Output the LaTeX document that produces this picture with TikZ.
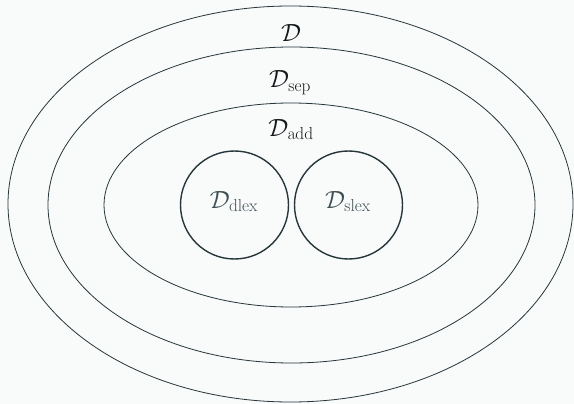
\documentclass[tikz,border=0pt]{standalone}
\usepackage{tikz}
\definecolor{bgc}{RGB}{249,250,250}
\definecolor{linec}{RGB}{38,54,58}
\definecolor{labc}{RGB}{20,24,26}
\definecolor{innerc}{RGB}{62,78,82}
\begin{document}
\begin{tikzpicture}[x=1pt,y=-1pt,
  ring/.style={draw=linec,line width=0.8pt},
  setcircle/.style={draw=linec,line width=1.4pt},
  lab/.style={text=labc,anchor=base,inner sep=0pt,font=\fontsize{23}{27}\selectfont},
  inlab/.style={lab,text=innerc}]
\fill[bgc] (0,0) rectangle (574,404);
\useasboundingbox (0,0) rectangle (574,404);
\draw[ring] (290.5,204) ellipse [x radius=282.5, y radius=198];
\draw[ring] (291.5,205) ellipse [x radius=243.5, y radius=158];
\draw[ring] (291,205) ellipse [x radius=187, y radius=102];
\draw[setcircle] (234.5,205) circle [radius=54];
\draw[setcircle] (348.5,205) circle [radius=54];
\node[lab] (d) at (291,42) {$\mathcal{D}$};
\node[lab] (dsep) at (290,88) {$\mathcal{D}_{\mathrm{sep}}$};
\node[lab] (dadd) at (291,136) {$\mathcal{D}_{\mathrm{add}}$};
\node[inlab] (ddlex) at (234,208) {$\mathcal{D}_{\mathrm{dlex}}$};
\node[inlab] (dslex) at (348,208) {$\mathcal{D}_{\mathrm{slex}}$};
\end{tikzpicture}
\end{document}
